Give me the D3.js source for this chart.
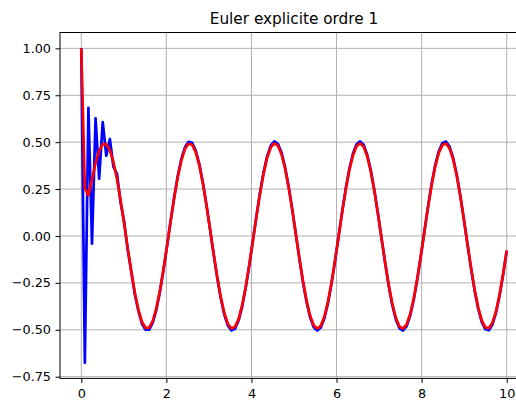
<!DOCTYPE html>
<html><head><meta charset="utf-8">
<script src="https://cdn.jsdelivr.net/npm/d3@7"></script>
<style>body{margin:0;background:#fff} svg{display:block}</style>
</head><body><svg id="c" width="516" height="400"></svg>
<script>
const title = "Euler explicite ordre 1";
const t = [0, 0.0840, 0.1681, 0.2521, 0.3361, 0.4202, 0.5042, 0.5882, 0.6723, 0.7563, 0.8403, 0.9244, 1.0084, 1.0924, 1.1765, 1.2605, 1.3445, 1.4286, 1.5126, 1.5966, 1.6807, 1.7647, 1.8487, 1.9328, 2.0168, 2.1008, 2.1849, 2.2689, 2.3529, 2.4370, 2.5210, 2.6050, 2.6891, 2.7731, 2.8571, 2.9412, 3.0252, 3.1092, 3.1933, 3.2773, 3.3613, 3.4454, 3.5294, 3.6134, 3.6975, 3.7815, 3.8655, 3.9496, 4.0336, 4.1176, 4.2017, 4.2857, 4.3697, 4.4538, 4.5378, 4.6218, 4.7059, 4.7899, 4.8739, 4.9580, 5.0420, 5.1261, 5.2101, 5.2941, 5.3782, 5.4622, 5.5462, 5.6303, 5.7143, 5.7983, 5.8824, 5.9664, 6.0504, 6.1345, 6.2185, 6.3025, 6.3866, 6.4706, 6.5546, 6.6387, 6.7227, 6.8067, 6.8908, 6.9748, 7.0588, 7.1429, 7.2269, 7.3109, 7.3950, 7.4790, 7.5630, 7.6471, 7.7311, 7.8151, 7.8992, 7.9832, 8.0672, 8.1513, 8.2353, 8.3193, 8.4034, 8.4874, 8.5714, 8.6555, 8.7395, 8.8235, 8.9076, 8.9916, 9.0756, 9.1597, 9.2437, 9.3277, 9.4118, 9.4958, 9.5798, 9.6639, 9.7479, 9.8319, 9.9160, 10.0];
const euler = [1.0, -0.6760, 0.6833, -0.0408, 0.6266, 0.3054, 0.6065, 0.4275, 0.5169, 0.3677, 0.3312, 0.1779, 0.0758, -0.0748, -0.1906, -0.3134, -0.4008, -0.4696, -0.4997, -0.4994, -0.4621, -0.3935, -0.2973, -0.1810, -0.0519, 0.0807, 0.2078, 0.3205, 0.4111, 0.4729, 0.5022, 0.4966, 0.4566, 0.3850, 0.2867, 0.1685, 0.0387, -0.0938, -0.2199, -0.3307, -0.4184, -0.4773, -0.5032, -0.4941, -0.4508, -0.3763, -0.2756, -0.1559, -0.0254, 0.1069, 0.2317, 0.3405, 0.4258, 0.4816, 0.5038, 0.4913, 0.4447, 0.3673, 0.2644, 0.1432, 0.0121, -0.1198, -0.2435, -0.3503, -0.4328, -0.4853, -0.5042, -0.4881, -0.4383, -0.3579, -0.2530, -0.1304, 0.0012, 0.1328, 0.2551, 0.3597, 0.4392, 0.4888, 0.5041, 0.4846, 0.4315, 0.3486, 0.2414, 0.1175, -0.0145, -0.1455, -0.2665, -0.3690, -0.4460, -0.4919, -0.5037, -0.4808, -0.4245, -0.3387, -0.2296, -0.1045, 0.0278, 0.1582, 0.2777, 0.3777, 0.4519, 0.4946, 0.5030, 0.4766, 0.4172, 0.3288, 0.2177, 0.0915, -0.0411, -0.1708, -0.2887, -0.3866, -0.4576, -0.4970, -0.5019, -0.4721, -0.4096, -0.3187, -0.2056, -0.0784];
const exact = [1.0, 0.2536, 0.2168, 0.3004, 0.3882, 0.4537, 0.4889, 0.4902, 0.4577, 0.3934, 0.3018, 0.1896, 0.0638, -0.0662, -0.1916, -0.3038, -0.3949, -0.4585, -0.4905, -0.4885, -0.4527, -0.3854, -0.2912, -0.1773, -0.0509, 0.0791, 0.2036, 0.3139, 0.4027, 0.4632, 0.4919, 0.4864, 0.4473, 0.3771, 0.2808, 0.1651, 0.0379, -0.0919, -0.2154, -0.3239, -0.4099, -0.4676, -0.4929, -0.4840, -0.4416, -0.3686, -0.2700, -0.1527, -0.0249, 0.1047, 0.2270, 0.3335, 0.4171, 0.4717, 0.4936, 0.4813, 0.4356, 0.3598, 0.2590, 0.1403, 0.0119, -0.1174, -0.2385, -0.3431, -0.4240, -0.4754, -0.4939, -0.4781, -0.4293, -0.3506, -0.2478, -0.1277, 0.0012, 0.1300, 0.2499, 0.3524, 0.4302, 0.4788, 0.4939, 0.4747, 0.4227, 0.3414, 0.2364, 0.1151, -0.0142, -0.1425, -0.2610, -0.3614, -0.4369, -0.4819, -0.4935, -0.4709, -0.4158, -0.3318, -0.2249, -0.1024, 0.0273, 0.1550, 0.2720, 0.3700, 0.4427, 0.4845, 0.4928, 0.4669, 0.4087, 0.3221, 0.2132, 0.0896, -0.0403, -0.1673, -0.2828, -0.3787, -0.4482, -0.4869, -0.4917, -0.4624, -0.4012, -0.3121, -0.2014, -0.0768];
const xTicks = [0, 2, 4, 6, 8, 10];
const yTicks = [-0.75, -0.5, -0.25, 0, 0.25, 0.5, 0.75, 1.0];

const svg = d3.select("#c");
const L = 60, R = 528, T = 32.5, B = 378.4;
const FONT = "'DejaVu Sans', sans-serif";
const x = d3.scaleLinear().domain([-0.5, 10.5]).range([L, R]);
const y = d3.scaleLinear().domain([-0.759, 1.0844]).range([B, T]);

svg.append("defs").append("clipPath").attr("id", "clip")
  .append("rect").attr("x", L).attr("y", T).attr("width", R - L).attr("height", B - T);

// grid
const grid = svg.append("g").attr("stroke", "#b0b0b0").attr("stroke-width", 1);
grid.selectAll("line.v").data(xTicks).join("line").attr("class", "v")
  .attr("x1", d => x(d)).attr("x2", d => x(d)).attr("y1", T).attr("y2", B);
grid.selectAll("line.h").data(yTicks).join("line").attr("class", "h")
  .attr("x1", L).attr("x2", R).attr("y1", d => y(d)).attr("y2", d => y(d));

// lines
const n = Math.min(t.length, euler.length, exact.length);
const idx = d3.range(n);
const line = arr => d3.line().x(i => x(t[i])).y(i => y(arr[i]))(idx);
const plot = svg.append("g").attr("clip-path", "url(#clip)");
plot.append("path").attr("d", line(euler)).attr("fill", "none")
  .attr("stroke", "#0000ff").attr("stroke-width", 2.7).attr("stroke-linejoin", "round");
plot.append("path").attr("d", line(exact)).attr("fill", "none")
  .attr("stroke", "#ff0000").attr("stroke-width", 2.7).attr("stroke-linejoin", "round");

// axes
const xAxis = svg.append("g").attr("transform", `translate(0,${B})`)
  .call(d3.axisBottom(x).tickValues(xTicks).tickSize(4.5).tickPadding(6.3).tickFormat(d3.format("d")));
const yAxis = svg.append("g").attr("transform", `translate(${L},0)`)
  .call(d3.axisLeft(y).tickValues(yTicks).tickSize(4.5).tickPadding(4.5).tickFormat(d3.format(".2f")));
[xAxis, yAxis].forEach(g => {
  g.select(".domain").remove();
  g.selectAll(".tick line").attr("stroke", "#000").attr("stroke-width", 1);
  g.selectAll(".tick text").attr("fill", "#000").style("font-family", FONT).style("font-size", "12.8px");
});

// spines
svg.append("rect").attr("x", L).attr("y", T).attr("width", R - L).attr("height", B - T)
  .attr("fill", "none").attr("stroke", "#000").attr("stroke-width", 1);

// title
svg.append("text").attr("x", (L + R) / 2).attr("y", 24.3).attr("text-anchor", "middle")
  .style("font-family", FONT).style("font-size", "15.3px").attr("fill", "#000").text(title);
</script></body></html>
